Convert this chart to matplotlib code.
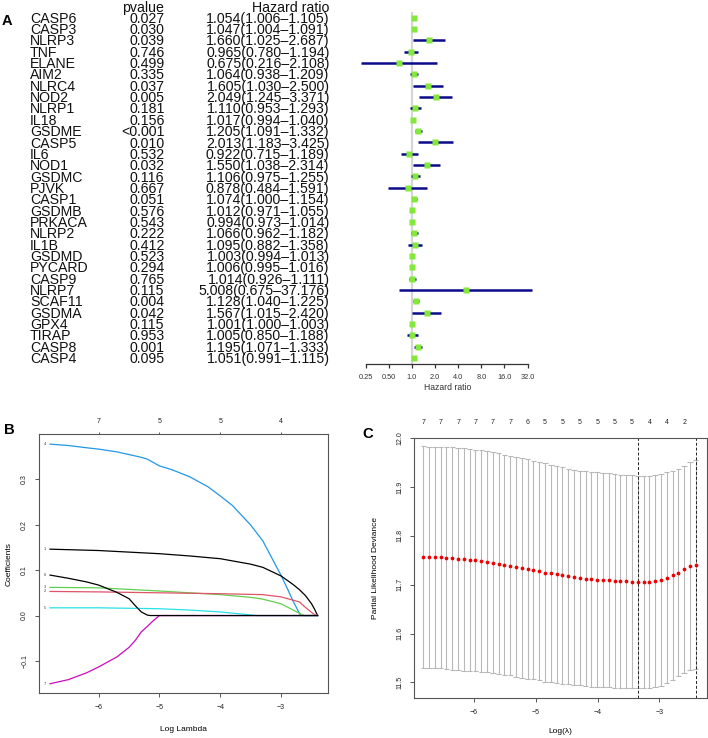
import matplotlib
matplotlib.use('Agg')
import matplotlib.pyplot as plt
import numpy as np

plt.rcParams['font.family'] = ['Liberation Sans', 'DejaVu Sans']

# ---------------- Panel A data ----------------
genes = ['CASP6', 'CASP3', 'NLRP3', 'TNF', 'ELANE', 'AIM2', 'NLRC4', 'NOD2', 'NLRP1', 'IL18',
         'GSDME', 'CASP5', 'IL6', 'NOD1', 'GSDMC', 'PJVK', 'CASP1', 'GSDMB', 'PRKACA', 'NLRP2',
         'IL1B', 'GSDMD', 'PYCARD', 'CASP9', 'NLRP7', 'SCAF11', 'GSDMA', 'GPX4', 'TIRAP', 'CASP8', 'CASP4']
pvalues = ['0.027', '0.030', '0.039', '0.746', '0.499', '0.335', '0.037', '0.005', '0.181', '0.156',
           '<0.001', '0.010', '0.532', '0.032', '0.116', '0.667', '0.051', '0.576', '0.543', '0.222',
           '0.412', '0.523', '0.294', '0.765', '0.115', '0.004', '0.042', '0.115', '0.953', '0.001', '0.095']
hr = [1.054, 1.047, 1.660, 0.965, 0.675, 1.064, 1.605, 2.049, 1.110, 1.017,
      1.205, 2.013, 0.922, 1.550, 1.106, 0.878, 1.074, 1.012, 0.994, 1.066,
      1.095, 1.003, 1.006, 1.014, 5.008, 1.128, 1.567, 1.001, 1.005, 1.195, 1.051]
hr_low = [1.006, 1.004, 1.025, 0.780, 0.216, 0.938, 1.030, 1.245, 0.953, 0.994,
          1.091, 1.183, 0.715, 1.038, 0.975, 0.484, 1.000, 0.971, 0.973, 0.962,
          0.882, 0.994, 0.995, 0.926, 0.675, 1.040, 1.015, 1.000, 0.850, 1.071, 0.991]
hr_high = [1.105, 1.091, 2.687, 1.194, 2.108, 1.209, 2.500, 3.371, 1.293, 1.040,
           1.332, 3.425, 1.189, 2.314, 1.255, 1.591, 1.154, 1.055, 1.014, 1.182,
           1.358, 1.013, 1.016, 1.111, 37.176, 1.225, 2.420, 1.003, 1.188, 1.333, 1.115]
hr_ticks = [0.25, 0.5, 1, 2, 4, 8, 16, 32]
hr_tick_labels = ['0.25', '0.50', '1.0', '2.0', '4.0', '8.0', '16.0', '32.0']

# ---------------- Panel B data ----------------
b_labels = ['4', '1', '3', '2', '5', '7', '6']
b_colors = ['#2297E6', '#000000', '#61D04F', '#DF536B', '#28E2E5', '#CD0BBC', '#000000']
b_x = [
    [-6.8, -6.5, -6.2, -6.0, -5.7, -5.5, -5.3, -5.2, -5.0, -4.8, -4.5, -4.2, -4.0, -3.8, -3.5, -3.3, -3.0, -2.9, -2.8, -2.68, -2.4],
    [-6.8, -6.0, -5.0, -4.5, -4.0, -3.5, -3.3, -3.0, -2.8, -2.7, -2.6, -2.5, -2.45, -2.4],
    [-6.8, -6.0, -5.0, -4.5, -4.0, -3.5, -3.3, -3.0, -2.8, -2.7, -2.62, -2.4],
    [-6.8, -6.0, -5.0, -4.0, -3.3, -3.0, -2.7, -2.6, -2.5, -2.45, -2.4],
    [-6.8, -6.0, -5.0, -4.5, -4.0, -3.7, -3.4, -2.4],
    [-6.8, -6.5, -6.2, -6.0, -5.7, -5.5, -5.4, -5.3, -5.2, -5.1, -5.0, -2.4],
    [-6.8, -6.5, -6.2, -6.0, -5.7, -5.5, -5.4, -5.3, -5.2, -5.15, -2.4],
]
b_y = [
    [0.377, 0.374, 0.369, 0.366, 0.360, 0.354, 0.348, 0.344, 0.329, 0.321, 0.305, 0.283, 0.263, 0.242, 0.199, 0.164, 0.088, 0.060, 0.031, 0.0, 0.0],
    [0.146, 0.143, 0.136, 0.131, 0.125, 0.113, 0.106, 0.087, 0.068, 0.057, 0.044, 0.026, 0.014, 0.0],
    [0.062, 0.061, 0.054, 0.050, 0.046, 0.040, 0.036, 0.026, 0.012, 0.005, 0.0, 0.0],
    [0.053, 0.052, 0.050, 0.048, 0.046, 0.041, 0.030, 0.018, 0.007, 0.002, 0.0],
    [0.017, 0.017, 0.015, 0.012, 0.008, 0.004, 0.0, 0.0],
    [-0.150, -0.141, -0.126, -0.113, -0.091, -0.070, -0.055, -0.036, -0.024, -0.011, 0.0, 0.0],
    [0.089, 0.082, 0.074, 0.067, 0.051, 0.037, 0.022, 0.008, 0.001, 0.0, 0.0],
]
b_top_ticks = [-6, -5, -4, -3]
b_top_labels = ['7', '5', '5', '4']

# ---------------- Panel C data ----------------
c_loglambda = [-6.820, -6.726, -6.632, -6.539, -6.445, -6.351, -6.257, -6.163, -6.069, -5.976,
               -5.882, -5.788, -5.694, -5.600, -5.506, -5.413, -5.319, -5.225, -5.131, -5.037,
               -4.943, -4.850, -4.756, -4.662, -4.568, -4.474, -4.380, -4.287, -4.193, -4.099,
               -4.005, -3.911, -3.817, -3.724, -3.630, -3.536, -3.442, -3.348, -3.254, -3.161,
               -3.067, -2.973, -2.879, -2.785, -2.691, -2.598, -2.504, -2.410]
c_cvm = [11.757, 11.756, 11.756, 11.756, 11.755, 11.754, 11.753, 11.752, 11.751, 11.750,
         11.749, 11.747, 11.745, 11.743, 11.741, 11.739, 11.736, 11.734, 11.732, 11.730,
         11.728, 11.725, 11.723, 11.721, 11.719, 11.717, 11.715, 11.714, 11.712, 11.711,
         11.710, 11.709, 11.709, 11.708, 11.707, 11.707, 11.706, 11.706, 11.706, 11.706,
         11.707, 11.710, 11.714, 11.719, 11.725, 11.732, 11.738, 11.741]
c_cvsd = [0.227, 0.227, 0.227, 0.227, 0.227, 0.228, 0.228, 0.228, 0.227, 0.227,
          0.227, 0.226, 0.226, 0.226, 0.225, 0.225, 0.225, 0.225, 0.225, 0.224,
          0.224, 0.224, 0.223, 0.223, 0.222, 0.221, 0.221, 0.220, 0.220, 0.220,
          0.220, 0.219, 0.219, 0.219, 0.218, 0.218, 0.218, 0.217, 0.217, 0.217,
          0.217, 0.217, 0.216, 0.214, 0.213, 0.212, 0.213, 0.214]
c_nonzero = ['7', '7', '7', '7', '7', '7', '6', '5', '5', '5', '5', '5', '5', '4', '4', '2']
c_idx_min = 37
c_idx_1se = 47

# ---------------- Figure ----------------
W, H = 708, 738
fig = plt.figure(figsize=(W / 100, H / 100), dpi=100)


def px_axes(l, t, r, b):
    return fig.add_axes([l / W, 1 - b / H, (r - l) / W, (b - t) / H])


bg = fig.add_axes([0, 0, 1, 1], zorder=-5)
bg.set_xlim(0, W)
bg.set_ylim(H, 0)
bg.axis('off')

# ---- Panel A: table ----
row_y0, row_dy = 17.7, 11.34
fs_tab = 10.2
cap = fs_tab * 100 / 72 * 0.716
for i, g in enumerate(genes):
    y = row_y0 + i * row_dy + cap / 2
    bg.text(30, y, g, ha='left', va='baseline', fontsize=fs_tab, color='#111111')
    bg.text(164.5, y, pvalues[i], ha='right', va='baseline', fontsize=fs_tab, color='#111111')
    bg.text(329.5, y, f"{hr[i]:.3f}({hr_low[i]:.3f}\u2013{hr_high[i]:.3f})", ha='right',
            va='baseline', fontsize=fs_tab, color='#111111')
bg.text(143, 6.5 + cap / 2, 'pvalue', ha='center', va='baseline', fontsize=fs_tab, color='#111111')
bg.text(291, 6.5 + cap / 2, 'Hazard ratio', ha='center', va='baseline', fontsize=fs_tab, color='#111111')

# ---- Panel A: forest ----
x1_px, per2 = 412.0, 23.1
fl, fr, ft, fb = 355, 540, 5, 364
fa = px_axes(fl, ft, fr, fb)
fa.set_xscale('log', base=2)
fa.set_xlim(2 ** ((fl - x1_px) / per2), 2 ** ((fr - x1_px) / per2))
yb = (fb - row_y0) / row_dy
yt = (ft - row_y0) / row_dy
fa.set_ylim(yb, yt)
fa.patch.set_alpha(0)
rows = np.arange(len(genes))
fa.plot([1, 1], [-0.5, yb], color='#d6d6d6', lw=1.6, zorder=1, solid_capstyle='butt')
fa.hlines(rows, hr_low, hr_high, color='#0a0a8a', lw=1.8, zorder=2)
fa.plot(hr, rows, 's', color='#84E83C', ms=4.3, mec='none', zorder=3)
for s in ['top', 'right', 'left']:
    fa.spines[s].set_visible(False)
fa.spines['bottom'].set_bounds(0.25, 32)
fa.spines['bottom'].set_color('#333333')
fa.spines['bottom'].set_linewidth(0.9)
fa.set_yticks([])
fa.set_xticks(hr_ticks)
fa.set_xticklabels(hr_tick_labels)
fa.xaxis.set_minor_locator(matplotlib.ticker.NullLocator())
fa.tick_params(axis='x', length=3, width=0.9, color='#333333', labelsize=5.3, pad=4,
               labelcolor='#333333')
bg.text(447.5, 389.5, 'Hazard ratio', ha='center', va='baseline', fontsize=6.2, color='#333333')

# panel letters
bg.text(2, 25, 'A', fontsize=10.5, fontweight='bold', va='baseline', ha='left')
bg.text(4, 433.5, 'B', fontsize=10.7, fontweight='bold', va='baseline', ha='left')
bg.text(362.5, 437.5, 'C', fontsize=10.7, fontweight='bold', va='baseline', ha='left')

spine_c = '#555555'


def style_box(ax):
    for s in ax.spines.values():
        s.set_color(spine_c)
        s.set_linewidth(0.8)
    ax.tick_params(axis='both', length=3, width=0.7, color=spine_c, labelsize=5, pad=5,
                   labelcolor='#222222')
    for lab in ax.get_yticklabels():
        lab.set_rotation(90)
        lab.set_va('center')


# ---- Panel B ----
bx = px_axes(39.3, 434.3, 328.3, 693.3)
for k in range(len(b_x)):
    bx.plot(b_x[k], b_y[k], color=b_colors[k], lw=0.9)
    bx.text(-6.88, b_y[k][0], b_labels[k], fontsize=2.8, ha='center', va='center', color='#333333')
bx.set_xlim(-6.976, -2.224)
bx.set_ylim(-0.171, 0.3986)
bx.set_xticks([-6, -5, -4, -3])
bx.set_yticks([-0.1, 0.0, 0.1, 0.2, 0.3])
bx.set_yticklabels(['\u22120.1', '0.0', '0.1', '0.2', '0.3'])
style_box(bx)
bx.set_xlabel('Log Lambda', fontsize=6)
bx.xaxis.set_label_coords(0.5, -0.127)
bx.set_ylabel('Coefficients', fontsize=6)
bx.yaxis.set_label_coords(-0.094, 0.5)
btop = bx.twiny()
btop.set_xlim(bx.get_xlim())
btop.set_xticks(b_top_ticks)
btop.set_xticklabels(b_top_labels)
btop.tick_params(axis='x', length=1.8, width=0.7, color=spine_c, labelsize=5, pad=4.6,
                 labelcolor='#222222')
for s in btop.spines.values():
    s.set_visible(False)

# ---- Panel C ----
cx = px_axes(414.3, 438.3, 707.3, 697.7)
xs = np.array(c_loglambda)
m = np.array(c_cvm)
sd = np.array(c_cvsd)
up, lo = m + sd, m - sd
hw = 0.044
grey = '#b8b8b8'
cx.vlines(xs, lo, up, color=grey, lw=0.8)
cx.hlines(up, xs - hw, xs + hw, color=grey, lw=0.8)
cx.hlines(lo, xs - hw, xs + hw, color=grey, lw=0.8)
cx.plot(xs, m, 'o', color='#ee0000', ms=2.7, mec='none', zorder=3)
cx.axvline(c_loglambda[c_idx_min], color='#222222', lw=0.7, ls=(0, (3, 2)))
cx.axvline(c_loglambda[c_idx_1se], color='#222222', lw=0.7, ls=(0, (3, 2)))
cx.set_xlim(-6.966, -2.223)
cx.set_ylim(11.4685, 12.0)
cx.set_xticks([-6, -5, -4, -3])
cx.set_yticks([11.5, 11.6, 11.7, 11.8, 11.9, 12.0])
cx.set_yticklabels(['11.5', '11.6', '11.7', '11.8', '11.9', '12.0'])
style_box(cx)
cx.set_xlabel('Log(\u03bb)', fontsize=6)
cx.xaxis.set_label_coords(0.5, -0.118)
cx.set_ylabel('Partial Likelihood Deviance', fontsize=6)
cx.yaxis.set_label_coords(-0.12, 0.5)
ctop = cx.twiny()
ctop.set_xlim(cx.get_xlim())
ctop.set_xticks(c_loglambda[0::3])
ctop.set_xticklabels(c_nonzero)
ctop.tick_params(axis='x', length=0, labelsize=5, pad=8.6, labelcolor='#222222')
for s in ctop.spines.values():
    s.set_visible(False)

fig.savefig('out.png', dpi=100)
